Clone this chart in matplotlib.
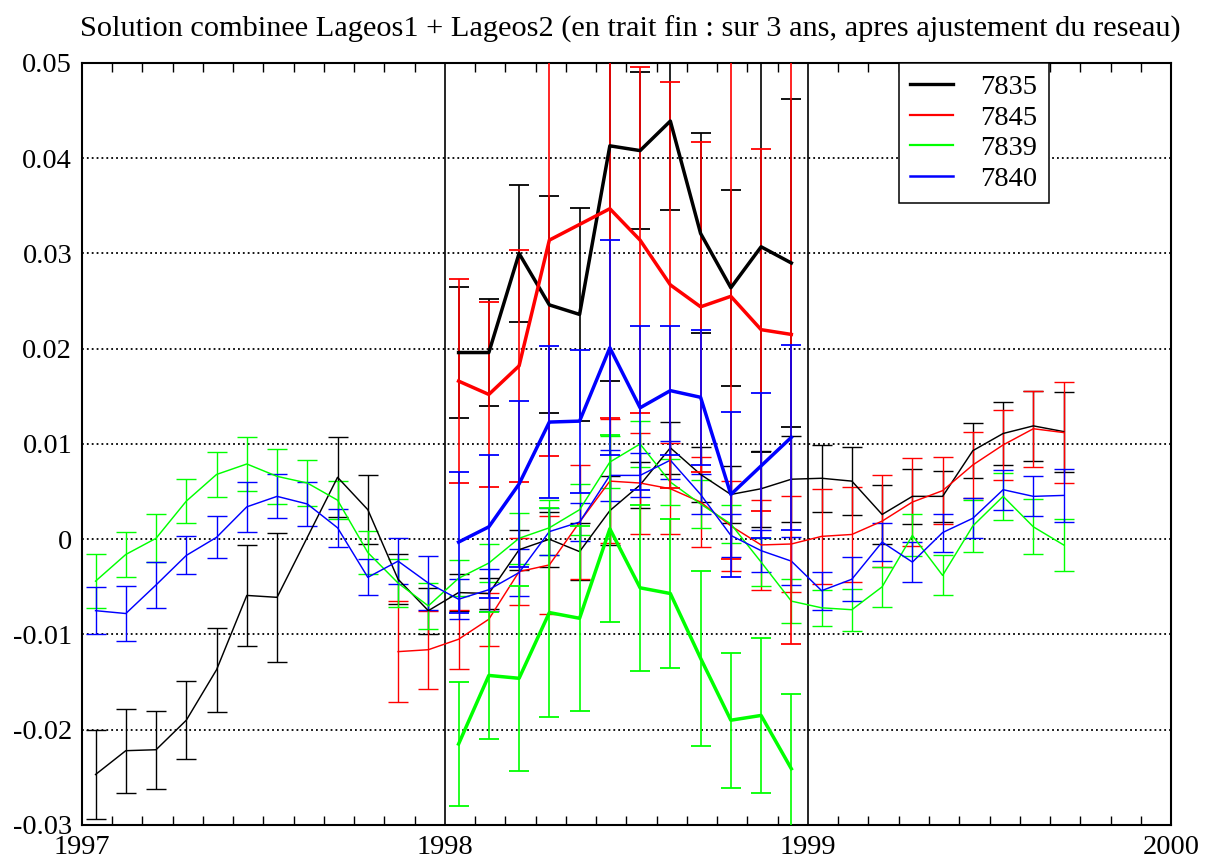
import numpy as np
import matplotlib
matplotlib.use("Agg")
import matplotlib.pyplot as plt
from matplotlib.lines import Line2D
from matplotlib.ticker import FixedLocator, FuncFormatter

plt.rcParams['font.family'] = ['Liberation Serif', 'DejaVu Serif']

titre = "Solution combinee Lageos1 + Lageos2 (en trait fin : sur 3 ans, apres ajustement du reseau)"
stations = ["7835", "7845", "7839", "7840"]
annees = [1997, 1998, 1999, 2000]

# --- solution sur 3 ans (trait fin), mois comptes depuis janvier 1997 ---
mois_fin_7835 = [0, 1, 2, 3, 4, 5, 6, 8, 9, 10, 11] + list(range(12, 33))
val_fin_7835 = [-0.0247, -0.0222, -0.0221, -0.0190, -0.0137, -0.0059, -0.0061, 0.0065, 0.0031, -0.0042, -0.0075,
                -0.0056, -0.0057, -0.0011, 0.0000, -0.0013, 0.0030, 0.0057, 0.0096, 0.0068, 0.0047, 0.0053, 0.0063,
                0.0064, 0.0061, 0.0026, 0.0045, 0.0045, 0.0093, 0.0111, 0.0119, 0.0113]
err_fin_7835 = [0.0047, 0.0044, 0.0041, 0.0041, 0.0044, 0.0053, 0.0068, 0.0042, 0.0036, 0.0026, 0.0024,
                0.0019, 0.0016, 0.0021, 0.0029, 0.0030, 0.0036, 0.0024, 0.0027, 0.0029, 0.0030, 0.0040, 0.0045,
                0.0035, 0.0036, 0.0031, 0.0029, 0.0027, 0.0029, 0.0033, 0.0037, 0.0042]

mois_fin_7845 = list(range(10, 33))
val_fin_7845 = [-0.0118, -0.0116,
                -0.0105, -0.0084, -0.0034, -0.0027, 0.0018, 0.0061, 0.0059, 0.0053, 0.0039, 0.0014, -0.0006, -0.0005,
                0.0003, 0.0005, 0.0019, 0.0039, 0.0051, 0.0078, 0.0099, 0.0116, 0.0112]
err_fin_7845 = [0.0053, 0.0041,
                0.0031, 0.0028, 0.0035, 0.0051, 0.0060, 0.0065, 0.0053, 0.0048, 0.0047, 0.0047, 0.0047, 0.0050,
                0.0050, 0.0050, 0.0048, 0.0046, 0.0035, 0.0035, 0.0037, 0.0040, 0.0053]

mois_fin_7839 = list(range(0, 33))
val_fin_7839 = [-0.0044, -0.0016, 0.0001, 0.0040, 0.0068, 0.0079, 0.0066, 0.0059, 0.0041, -0.0014, -0.0046, -0.0070,
                -0.0041, -0.0025, 0.0001, 0.0012, 0.0031, 0.0081, 0.0100, 0.0060, 0.0037, 0.0016, -0.0024, -0.0065,
                -0.0072, -0.0074, -0.0050, 0.0004, -0.0038, 0.0014, 0.0045, 0.0013, -0.0006]
err_fin_7839 = [0.0028, 0.0024, 0.0025, 0.0023, 0.0024, 0.0028, 0.0029, 0.0024, 0.0020, 0.0023, 0.0025, 0.0024,
                0.0019, 0.0020, 0.0027, 0.0029, 0.0027, 0.0027, 0.0024, 0.0024, 0.0025, 0.0020, 0.0025, 0.0023,
                0.0019, 0.0022, 0.0021, 0.0022, 0.0021, 0.0027, 0.0025, 0.0029, 0.0027]

mois_fin_7840 = list(range(0, 33))
val_fin_7840 = [-0.0075, -0.0078, -0.0048, -0.0017, 0.0002, 0.0034, 0.0045, 0.0037, 0.0012, -0.0040, -0.0023, -0.0046,
                -0.0063, -0.0053, -0.0035, 0.0008, 0.0018, 0.0067, 0.0067, 0.0083, 0.0047, 0.0004, -0.0012, -0.0023,
                -0.0054, -0.0042, -0.0003, -0.0024, 0.0007, 0.0022, 0.0052, 0.0045, 0.0046]
err_fin_7840 = [0.0025, 0.0029, 0.0024, 0.0020, 0.0022, 0.0026, 0.0023, 0.0023, 0.0020, 0.0019, 0.0024, 0.0028,
                0.0021, 0.0022, 0.0025, 0.0025, 0.0020, 0.0027, 0.0023, 0.0020, 0.0021, 0.0023, 0.0022, 0.0025,
                0.0020, 0.0023, 0.0020, 0.0021, 0.0020, 0.0021, 0.0021, 0.0021, 0.0028]

# --- solution combinee 1998 (trait epais) ---
mois_ep_7835 = list(range(12, 24))
val_ep_7835 = [0.0196, 0.0196, 0.0300, 0.0246, 0.0236, 0.0413, 0.0408, 0.0439, 0.0321, 0.0264, 0.0307, 0.0290]
err_ep_7835 = [0.0069, 0.0056, 0.0072, 0.0114, 0.0112, 0.0247, 0.0082, 0.0093, 0.0105, 0.0103, 0.0215, 0.0172]

mois_ep_7845 = [12, 13, 14, 15, 17, 18, 19, 20, 21, 22, 23]
val_ep_7845 = [0.0166, 0.0152, 0.0182, 0.0314, 0.0347, 0.0314, 0.0267, 0.0244, 0.0255, 0.0220, 0.0215]
err_ep_7845 = [0.0107, 0.0097, 0.0122, 0.0227, 0.0220, 0.0182, 0.0213, 0.0173, 0.0276, 0.0190, 0.0325]

mois_ep_7839 = list(range(12, 24))
val_ep_7839 = [-0.0215, -0.0143, -0.0146, -0.0077, -0.0083, 0.0011, -0.0051, -0.0057, -0.0125, -0.0190, -0.0185, -0.0241]
err_ep_7839 = [0.0065, 0.0067, 0.0097, 0.0110, 0.0097, 0.0098, 0.0087, 0.0078, 0.0092, 0.0071, 0.0081, 0.0078]

mois_ep_7840 = list(range(12, 24))
val_ep_7840 = [-0.0003, 0.0013, 0.0058, 0.0123, 0.0124, 0.0201, 0.0138, 0.0156, 0.0149, 0.0047, 0.0077, 0.0107]
err_ep_7840 = [0.0074, 0.0075, 0.0087, 0.0080, 0.0075, 0.0113, 0.0086, 0.0068, 0.0071, 0.0087, 0.0076, 0.0097]

couleurs = {"7835": "#000000", "7845": "#ff0000", "7839": "#00ff00", "7840": "#0000ff"}

fin = {
    "7835": (mois_fin_7835, val_fin_7835, err_fin_7835),
    "7845": (mois_fin_7845, val_fin_7845, err_fin_7845),
    "7839": (mois_fin_7839, val_fin_7839, err_fin_7839),
    "7840": (mois_fin_7840, val_fin_7840, err_fin_7840),
}
epais = {
    "7835": (mois_ep_7835, val_ep_7835, err_ep_7835),
    "7845": (mois_ep_7845, val_ep_7845, err_ep_7845),
    "7839": (mois_ep_7839, val_ep_7839, err_ep_7839),
    "7840": (mois_ep_7840, val_ep_7840, err_ep_7840),
}


def en_annee(mois):
    # milieu de chaque mois, en annee decimale
    return 1997 + (np.asarray(mois) + 0.45) / 12.0


fig = plt.figure(figsize=(12.05, 8.59), dpi=100)
ax = fig.add_axes([0.068, 0.0396, 0.9718 - 0.068, 0.9267 - 0.0396])

ax.set_xlim(1997, 2000)
ax.set_ylim(-0.03, 0.05)

yticks = [round(v, 2) for v in np.arange(-0.03, 0.0501, 0.01)]

# grille horizontale en pointilles et separations annuelles
for v in yticks[1:-1]:
    ax.axhline(v, color="black", lw=1.3, linestyle=(0, (1, 1.7)), zorder=1)
for a in annees[1:-1]:
    ax.axvline(a, color="black", lw=1.2, zorder=1)

for st in stations:
    m, v, e = fin[st]
    ax.errorbar(en_annee(m), v, yerr=e, color=couleurs[st], lw=1.05,
                elinewidth=1.0, capsize=7.4, capthick=1.0, zorder=2)

for st in stations:
    m, v, e = epais[st]
    ax.errorbar(en_annee(m), v, yerr=e, color=couleurs[st], lw=2.5,
                elinewidth=1.2, capsize=7.4, capthick=1.3, zorder=3)

ax.yaxis.set_major_locator(FixedLocator(yticks))
ax.yaxis.set_major_formatter(FuncFormatter(lambda v, p: "%g" % round(v, 2)))
ax.xaxis.set_major_locator(FixedLocator(annees))
ax.xaxis.set_major_formatter(FuncFormatter(lambda v, p: "%d" % round(v)))
ax.xaxis.set_minor_locator(FixedLocator([1997 + k / 12.0 for k in range(1, 36) if k % 12]))

ax.tick_params(axis="y", which="both", length=0, pad=7, labelsize=20.5)
ax.tick_params(axis="x", which="major", length=0, pad=7, labelsize=20.5)
ax.tick_params(axis="x", which="minor", direction="in", length=6.5, width=1.0,
               top=True, bottom=True)
for s in ax.spines.values():
    s.set_linewidth(1.5)

fig.text((0.068 + 0.9718) / 2 + 0.003, 1 - 37 / 859, titre, ha="center", va="baseline", fontsize=21.9)

poignees = [Line2D([], [], color=couleurs["7835"], lw=2.4),
            Line2D([], [], color=couleurs["7845"], lw=1.6),
            Line2D([], [], color=couleurs["7839"], lw=1.6),
            Line2D([], [], color=couleurs["7840"], lw=1.8)]
leg = ax.legend(poignees, stations, loc="upper left", bbox_to_anchor=(0.7502, 1.0),
                borderaxespad=0, fontsize=20.5, handlelength=1.5, handletextpad=0.95,
                borderpad=0.4, labelspacing=0.16, fancybox=False, framealpha=1,
                edgecolor="black")
leg.get_frame().set_linewidth(1.1)

fig.savefig("out.png", dpi=100)
